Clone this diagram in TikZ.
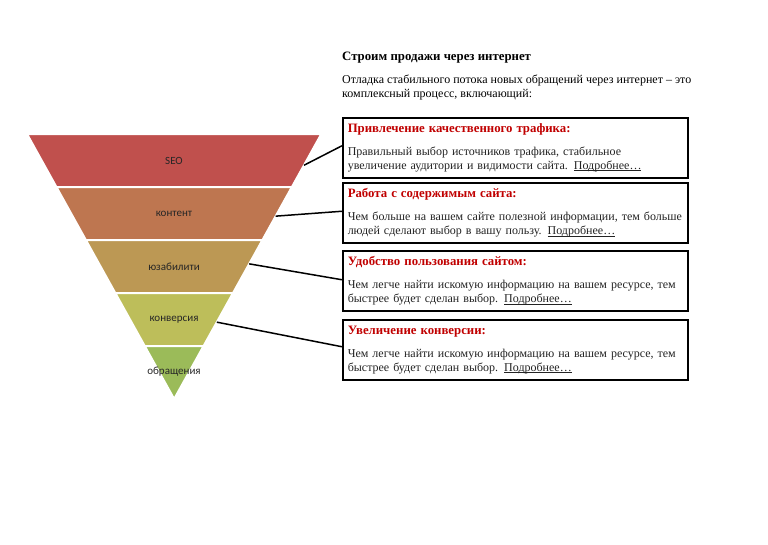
\documentclass[tikz,border=0pt]{standalone}
\usepackage{fontspec}
\setmainfont{Liberation Serif}
\newfontfamily\lblfont{Carlito}
\usetikzlibrary{calc}

\definecolor{bandA}{RGB}{192,80,77}
\definecolor{bandB}{RGB}{190,118,80}
\definecolor{bandC}{RGB}{188,152,84}
\definecolor{bandD}{RGB}{189,190,90}
\definecolor{bandE}{RGB}{155,187,89}
\definecolor{headred}{RGB}{192,0,0}
\definecolor{bodygray}{RGB}{35,35,35}

\newcommand{\boxhead}[1]{{\color{headred}\bfseries\fontsize{12.8}{13.5}\selectfont #1}}
\newsavebox{\morebox}
\newcommand{\morelink}{\sbox{\morebox}{Подробнее…}\rlap{\rule[-1.6pt]{\wd\morebox}{0.6pt}}\usebox{\morebox}}

\begin{document}
\begin{tikzpicture}[
    % GLOBAL CFG
    x=1pt, y=-1pt,
    font=\fontsize{12}{13.8}\selectfont,
    % Styles
    band/.style={% For the funnel layers
        draw=white,
        line width=2pt,
        },
    lbl/.style={% For the funnel texts
        font=\lblfont\fontsize{11}{13}\selectfont,
        text=black!85,
        inner sep=1pt,
        },
    infobox/.style={% For the boxes on the right
        rectangle,
        draw,
        line width=1.5pt,
        text=bodygray,
        text width=335pt,
        align=left,
        inner xsep=5pt,
        inner ysep=4pt,
        minimum height=60pt,
        anchor=north west,
        },
    link/.style={% Lines from funnel to boxes
        line width=1.5pt,
        }
    ]

    \useasboundingbox (0,0) rectangle (768,544);

    % Corners of the funnel
    \coordinate (tl) at (27,134);
    \coordinate (tr) at (321.3,134);
    \coordinate (ap) at (174.15,399);

    % Draw the layers
    \path[fill=bandA, band] (tl) -- (tr) -- ($(tr)!0.2!(ap)$) -- ($(tl)!0.2!(ap)$) -- cycle;
    \path[fill=bandB, band] ($(tl)!0.2!(ap)$) -- ($(tr)!0.2!(ap)$) -- ($(tr)!0.4!(ap)$) -- ($(tl)!0.4!(ap)$) -- cycle;
    \path[fill=bandC, band] ($(tl)!0.4!(ap)$) -- ($(tr)!0.4!(ap)$) -- ($(tr)!0.6!(ap)$) -- ($(tl)!0.6!(ap)$) -- cycle;
    \path[fill=bandD, band] ($(tl)!0.6!(ap)$) -- ($(tr)!0.6!(ap)$) -- ($(tr)!0.8!(ap)$) -- ($(tl)!0.8!(ap)$) -- cycle;
    \path[fill=bandE, band] ($(tl)!0.8!(ap)$) -- ($(tr)!0.8!(ap)$) -- (ap) -- cycle;

    % Layer names
    \node[lbl] (seo) at (174,161) {SEO};
    \node[lbl] (content) at (174,214) {контент};
    \node[lbl] (usab) at (174,267) {юзабилити};
    \node[lbl] (conv) at (174,320) {конверсия};
    \node[lbl] (leads) at (174,372) {обращения};

    % Points on the right side of the funnel
    \coordinate (seo-r) at ($(tr)!0.118!(ap)$);
    \coordinate (content-r) at ($(tr)!0.31!(ap)$);
    \coordinate (usab-r) at ($(tr)!0.49!(ap)$);
    \coordinate (conv-r) at ($(tr)!0.71!(ap)$);

    % Heading
    \node[anchor=base west, inner sep=0pt] (title) at (342,60)
        {\bfseries\fontsize{12.8}{14}\selectfont Строим продажи через интернет};
    \node[anchor=north west, align=left, inner sep=0pt] (intro) at (342,75)
        {Отладка стабильного потока новых обращений через интернет -- это\\
         комплексный процесс, включающий:};

    % Boxes named box#
    \node[infobox] (box1) at (342,117) {\boxhead{Привлечение качественного трафика:}\\[9.5pt]
        Правильный выбор источников трафика, стабильное\\
        увеличение аудитории и видимости сайта. \morelink};
    \node[infobox] (box2) at (342,182) {\boxhead{Работа с содержимым сайта:}\\[9.5pt]
        Чем больше на вашем сайте полезной информации, тем больше\\
        людей сделают выбор в вашу пользу. \morelink};
    \node[infobox] (box3) at (342,250) {\boxhead{Удобство пользования сайтом:}\\[9.5pt]
        Чем легче найти искомую информацию на вашем ресурсе, тем\\
        быстрее будет сделан выбор. \morelink};
    \node[infobox] (box4) at (342,319) {\boxhead{Увеличение конверсии:}\\[9.5pt]
        Чем легче найти искомую информацию на вашем ресурсе, тем\\
        быстрее будет сделан выбор. \morelink};

    % Connect funnel and boxes
    \draw[link] (seo-r) -- ([yshift=2pt]box1.west);
    \draw[link] (content-r) -- ([yshift=1.5pt]box2.west);
    \draw[link] (usab-r) -- ([yshift=1pt]box3.west);
    \draw[link] (conv-r) -- ([yshift=3pt]box4.west);

\end{tikzpicture}
\end{document}
